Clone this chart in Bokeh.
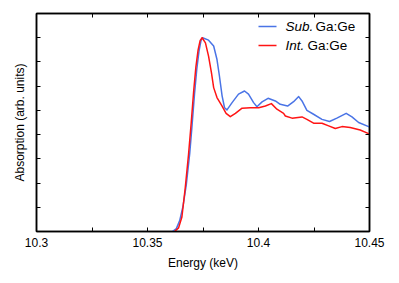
from bokeh.plotting import figure
from bokeh.models import LinearAxis, FixedTicker, Label, Arrow, Range1d
from bokeh.embed import file_html
from bokeh.resources import INLINE

# --- data ---
sub_energy = [10.3612, 10.3630, 10.3645, 10.3660, 10.3675, 10.3690, 10.3700, 10.3712,
              10.3722, 10.3732, 10.3741, 10.3748, 10.3775, 10.3798, 10.3813, 10.3824,
              10.3836, 10.3847, 10.3858, 10.3881, 10.3910, 10.3937, 10.3955, 10.3978,
              10.3993, 10.4016, 10.4043, 10.4076, 10.4098, 10.4131, 10.4158, 10.4181,
              10.4196, 10.4218, 10.4248, 10.4286, 10.4320, 10.4353, 10.4395, 10.4421,
              10.4451, 10.4496, 10.4500]
sub_abs = [0.0, 0.12, 0.45, 1.05, 1.95, 3.2, 4.3, 5.7,
           6.7, 7.45, 7.88, 8.0, 7.9, 7.66, 7.1, 6.42,
           5.6, 5.11, 5.02, 5.32, 5.67, 5.8, 5.67, 5.32,
           5.15, 5.35, 5.5, 5.39, 5.25, 5.18, 5.36, 5.57,
           5.39, 5.0, 4.84, 4.63, 4.54, 4.68, 4.88, 4.73,
           4.5, 4.33, 4.31]

int_energy = [10.3622, 10.3640, 10.3655, 10.3670, 10.3685, 10.3697, 10.3708, 10.3718,
              10.3728, 10.3737, 10.3746, 10.3761, 10.3775, 10.3788, 10.3798, 10.3813,
              10.3836, 10.3854, 10.3873, 10.3896, 10.3926, 10.3963, 10.4001, 10.4031,
              10.4058, 10.4083, 10.4113, 10.4121, 10.4151, 10.4196, 10.4218, 10.4248,
              10.4286, 10.4316, 10.4346, 10.4376, 10.4413, 10.4458, 10.4496, 10.4500]
int_abs = [0.0, 0.15, 0.6, 1.8, 3.2, 4.5, 5.8, 6.8,
           7.5, 7.88, 8.0, 7.79, 7.24, 6.56, 5.94, 5.53,
           5.18, 4.88, 4.74, 4.88, 5.09, 5.11, 5.11, 5.18,
           5.28, 5.05, 4.88, 4.77, 4.68, 4.73, 4.63, 4.47,
           4.47, 4.36, 4.25, 4.33, 4.29, 4.19, 4.04, 4.03]

x_ticks = [10.3, 10.35, 10.4, 10.45]
x_minor = [10.325, 10.375, 10.425]
y_ticks = [0, 1, 2, 3, 4, 5, 6, 7, 8, 9]
series_names = [("Sub.", "Ga:Ge"), ("Int.", "Ga:Ge")]
blue = "#4a74e6"
red = "#ff1414"

FONT = "Liberation Sans"

p = figure(frame_width=333, frame_height=218, output_backend="svg", toolbar_location=None,
           x_range=Range1d(10.3, 10.45), y_range=Range1d(0, 9),
           min_border_left=36, min_border_right=22, min_border_top=13, min_border_bottom=44,
           x_axis_label="Energy (keV)", y_axis_label="Absorption (arb. units)")
p.grid.visible = False
p.outline_line_color = "black"
p.outline_line_width = 1.5
p.background_fill_color = "white"
p.border_fill_color = "white"

p.line(sub_energy, sub_abs, line_color=blue, line_width=1.5, line_join="round")
p.line(int_energy, int_abs, line_color=red, line_width=1.5, line_join="round")

def style_axis(ax, labels, ticks):
    ax.axis_line_color = "black"
    ax.axis_line_width = 1.5
    ax.major_tick_in = 4
    ax.major_tick_out = 0
    ax.minor_tick_in = 4
    ax.minor_tick_out = 0
    ax.major_tick_line_color = "black"
    ax.minor_tick_line_color = "black"
    ax.major_label_text_font = FONT
    ax.major_label_text_font_size = "12px"
    ax.major_label_text_color = "black"
    if not labels:
        ax.major_label_overrides = {t: "" for t in ticks}
    ax.axis_label_text_font = FONT
    ax.axis_label_text_font_size = "12px"
    ax.axis_label_text_font_style = "normal"
    ax.axis_label_text_color = "black"

p.xaxis.ticker = FixedTicker(ticks=x_ticks, minor_ticks=x_minor)
p.yaxis.ticker = FixedTicker(ticks=y_ticks, minor_ticks=[])
style_axis(p.xaxis[0], True, x_ticks)
style_axis(p.yaxis[0], False, y_ticks)
p.xaxis.major_label_standoff = 6
p.xaxis.axis_label_standoff = 6
p.yaxis.axis_label_standoff = 10
p.yaxis.major_label_standoff = 0

top = LinearAxis(ticker=FixedTicker(ticks=x_ticks, minor_ticks=x_minor))
style_axis(top, False, x_ticks)
top.major_label_standoff = 0
p.add_layout(top, "above")
right = LinearAxis(ticker=FixedTicker(ticks=y_ticks, minor_ticks=[]))
style_axis(right, False, y_ticks)
right.major_label_standoff = 0
p.add_layout(right, "right")

# legend (manual, so that the prefix can be italic)
for i, ((pre, rest), col) in enumerate(zip(series_names, [blue, red])):
    ys = 205 - i * 19
    p.add_layout(Arrow(x_start=222, y_start=ys, x_end=240, y_end=ys,
                       start_units="screen", end_units="screen", end=None,
                       line_color=col, line_width=1.5))
    p.add_layout(Label(x=249, y=ys, x_units="screen", y_units="screen", text=pre,
                       text_font=FONT, text_font_size="13.5px", text_font_style="italic",
                       text_baseline="middle", text_color="black"))
    p.add_layout(Label(x=249 + (30 if i == 0 else 22), y=ys, x_units="screen", y_units="screen",
                       text=rest, text_font=FONT, text_font_size="13.5px",
                       text_baseline="middle", text_color="black"))

open("out.html", "w").write(file_html(p, INLINE))
